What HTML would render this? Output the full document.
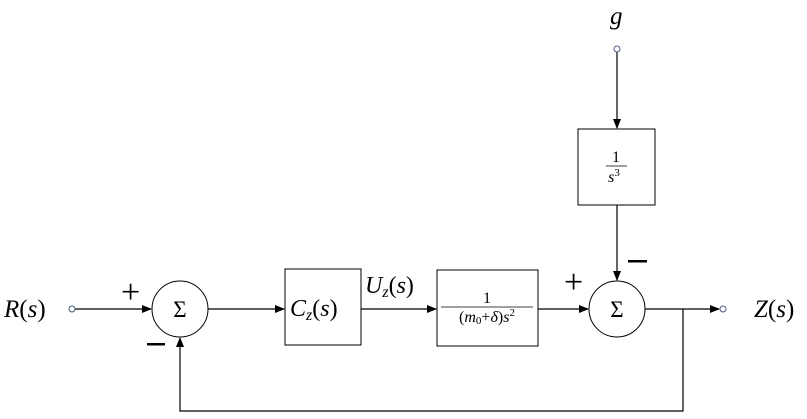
<!DOCTYPE html>
<html><head><meta charset="utf-8"><style>
html,body{margin:0;padding:0;background:#fff;}
svg{display:block;}
svg text{font-family:"Liberation Serif","DejaVu Serif",serif;fill:#000;}
</style></head><body>
<svg width="807" height="419" viewBox="0 0 807 419" xmlns="http://www.w3.org/2000/svg" font-family="Liberation Serif, DejaVu Serif, serif">
<defs><marker id="a" markerWidth="10" markerHeight="8" refX="9" refY="4" orient="auto" markerUnits="userSpaceOnUse"><path d="M0,0 L10,4 L0,8 Z" fill="#000"/></marker></defs>
<g stroke="#000" stroke-width="1.2" fill="none">
<line x1="75" y1="309" x2="151" y2="309" marker-end="url(#a)"/>
<circle cx="180" cy="309" r="28" stroke-width="1"/>
<line x1="208" y1="309" x2="284" y2="309" marker-end="url(#a)"/>
<rect x="285" y="269" width="76" height="76" stroke-width="1"/>
<line x1="361" y1="309" x2="436" y2="309" marker-end="url(#a)"/>
<rect x="437" y="270" width="101" height="76" stroke-width="1"/>
<line x1="538" y1="309" x2="588" y2="309" marker-end="url(#a)"/>
<circle cx="617" cy="309" r="28" stroke-width="1"/>
<line x1="645" y1="309" x2="719" y2="309" marker-end="url(#a)"/>
<line x1="617" y1="52" x2="617" y2="128" marker-end="url(#a)"/>
<rect x="578" y="129" width="77" height="76" stroke-width="1"/>
<line x1="617" y1="205" x2="617" y2="280" marker-end="url(#a)"/>
<polyline points="683,309 683,411 180,411 180,338" marker-end="url(#a)"/>
</g>
<circle cx="72" cy="309" r="3" fill="#fff" stroke="#4a5a80" stroke-width="1"/>
<circle cx="723" cy="309" r="3" fill="#fff" stroke="#4a5a80" stroke-width="1"/>
<circle cx="617" cy="49" r="3" fill="#fff" stroke="#4a5a80" stroke-width="1"/>
<text x="4" y="317" font-size="25" font-style="italic">R<tspan font-style="normal">(</tspan>s<tspan font-style="normal">)</tspan></text>
<text x="754" y="317" font-size="25" font-style="italic">Z<tspan font-style="normal">(</tspan>s<tspan font-style="normal">)</tspan></text>
<text x="610" y="24" font-size="25" font-style="italic">g</text>
<text x="180" y="317" font-size="23" text-anchor="middle">Σ</text>
<text x="617" y="317" font-size="23" text-anchor="middle">Σ</text>
<text x="121" y="303" font-size="34">+</text>
<text x="564" y="293" font-size="34">+</text>
<rect x="147" y="343" width="18" height="2.5" fill="#000"/>
<rect x="628" y="260" width="19" height="2.5" fill="#000"/>
<text x="290" y="316" font-size="24" font-style="italic">C<tspan font-size="16" dy="4">z</tspan><tspan dy="-4" font-style="normal">(</tspan>s<tspan font-style="normal">)</tspan></text>
<text x="365" y="293" font-size="24" font-style="italic">U<tspan font-size="16" dy="4">z</tspan><tspan dy="-4" font-style="normal">(</tspan>s<tspan font-style="normal">)</tspan></text>
<text x="487" y="303" font-size="16" text-anchor="middle">1</text>
<line x1="441" y1="307" x2="533" y2="307" stroke="#000" stroke-width="0.8"/>
<text x="487" y="322" font-size="16" text-anchor="middle">(<tspan font-style="italic">m</tspan><tspan font-size="11" dy="2">0</tspan><tspan dy="-2">+</tspan><tspan font-style="italic">δ</tspan>)<tspan font-style="italic">s</tspan><tspan font-size="11" dy="-6">2</tspan></text>
<text x="616" y="162" font-size="16" text-anchor="middle">1</text>
<line x1="606" y1="166" x2="627" y2="166" stroke="#000" stroke-width="0.8"/>
<text x="614" y="182" font-size="16" text-anchor="middle" font-style="italic">s<tspan font-size="11" dy="-6" font-style="normal">3</tspan></text>
</svg>
</body></html>
